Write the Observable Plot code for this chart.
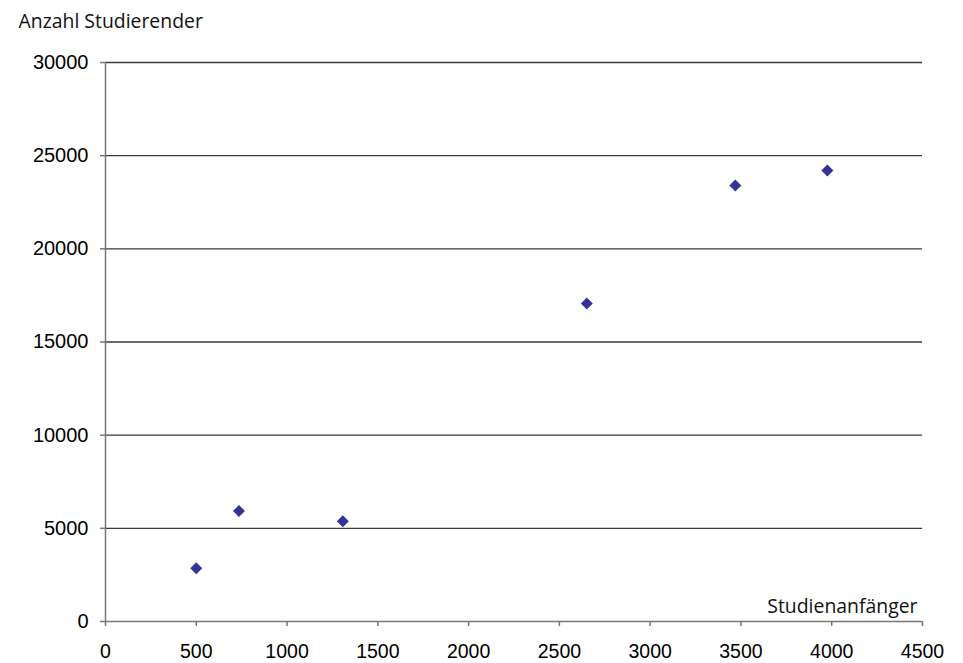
<!DOCTYPE html>
<html>
<head>
<meta charset="utf-8">
<script src="https://cdn.jsdelivr.net/npm/d3@7"></script>
<script src="https://cdn.jsdelivr.net/npm/@observablehq/plot@0.6"></script>
<style>
  html, body { margin: 0; padding: 0; background: #fff; }
</style>
</head>
<body>
<div id="chart"></div>
<script>
const studienanfaenger = [500, 735, 1307, 2651, 3469, 3976];
const studierende = [2860, 5930, 5380, 17060, 23400, 24200];
const xTicks = [0, 500, 1000, 1500, 2000, 2500, 3000, 3500, 4000, 4500];
const yTicks = [0, 5000, 10000, 15000, 20000, 25000, 30000];
const xLabel = "Studienanfänger";
const yLabel = "Anzahl Studierender";

const data = studienanfaenger.map((x, i) => ({x, y: studierende[i]}));
const labelFont = "'Open Sans', 'Noto Sans', sans-serif";

const chart = Plot.plot({
  width: 963,
  height: 663,
  marginLeft: 105,
  marginRight: 41,
  marginTop: 62,
  marginBottom: 42,
  style: {fontFamily: "'Liberation Sans', Arial, sans-serif", fontSize: "20px", color: "#000", background: "#fff", overflow: "visible"},
  x: {domain: [0, 4500], label: null},
  y: {domain: [0, 30000], label: null},
  marks: [
    Plot.gridY(yTicks.filter(d => d > 0), {stroke: "#3a3a3a", strokeOpacity: 1, strokeWidth: 1.3}),
    Plot.ruleY([0], {stroke: "#777", strokeWidth: 1.5}),
    Plot.ruleX([0], {stroke: "#777", strokeWidth: 1.5}),
    Plot.axisX({ticks: xTicks, tickSize: 5, tickPadding: 18, tickFormat: d => String(d), stroke: "#777", strokeWidth: 1.5, fontSize: 19.5, label: null}),
    Plot.axisY({ticks: yTicks, tickSize: 5, tickPadding: 12, tickFormat: d => String(d), stroke: "#777", strokeWidth: 1.5, fontSize: 20, label: null}),
    Plot.dot(data, {x: "x", y: "y", symbol: "diamond2", r: 5.4, fill: "#333399", stroke: "none"}),
    Plot.text([xLabel], {frameAnchor: "bottom-right", textAnchor: "end", lineAnchor: "bottom", dx: -5, dy: -9, fontSize: 19.4, fontFamily: labelFont, fill: "#111"}),
    Plot.text([yLabel], {frameAnchor: "top-left", textAnchor: "start", lineAnchor: "bottom", dx: -87, dy: -35, fontSize: 19.4, fontFamily: labelFont, fill: "#111"})
  ]
});
document.getElementById("chart").appendChild(chart);
</script>
</body>
</html>
